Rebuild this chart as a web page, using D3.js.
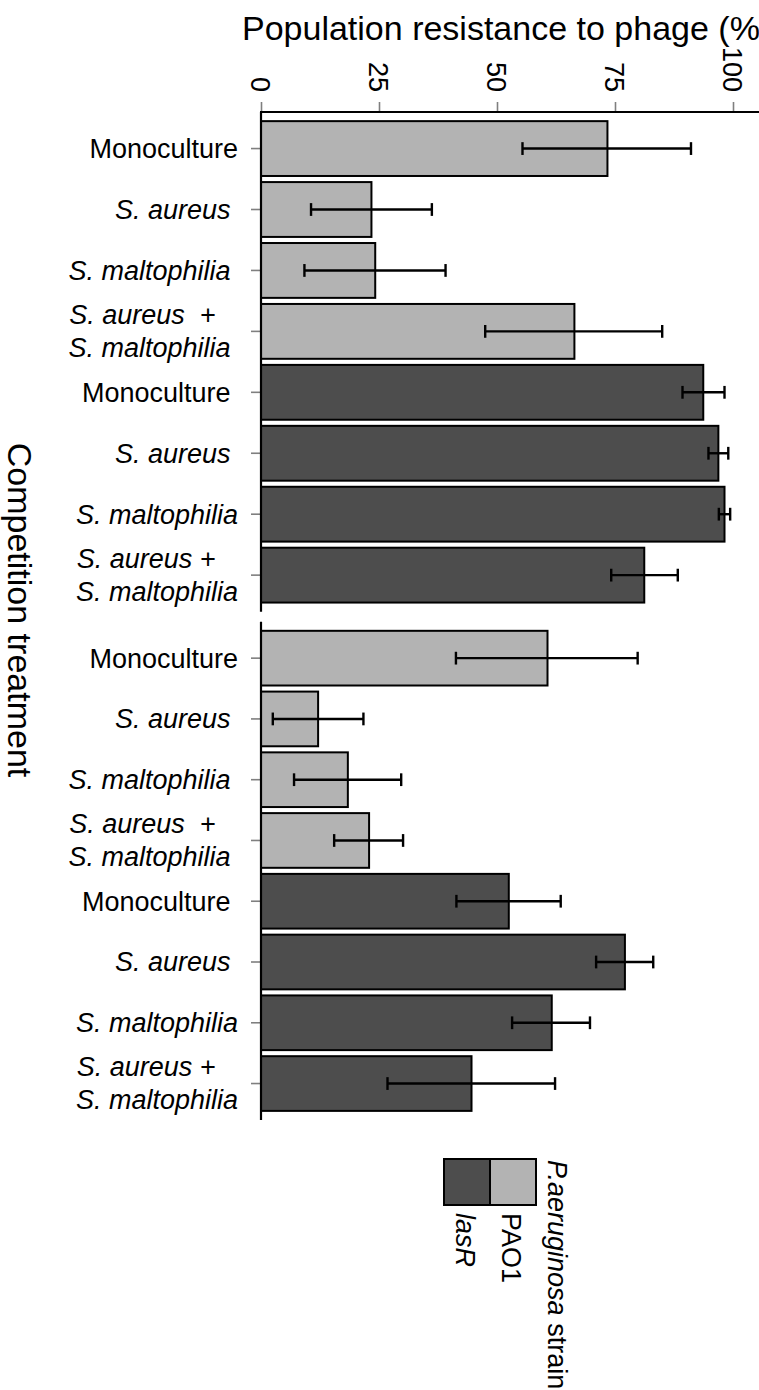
<!DOCTYPE html>
<html>
<head>
<meta charset="utf-8">
<script src="https://cdn.jsdelivr.net/npm/d3@7"></script>
<style>
  html, body { margin: 0; padding: 0; background: #fff; }
  svg { display: block; }
  text { font-family: "Liberation Sans", Arial, Helvetica, sans-serif; fill: #000; white-space: pre; }
</style>
</head>
<body>
<svg id="chart" width="759" height="1390"></svg>
<script>
// ---------------- data ----------------
const strains = ["PAO1", "PAO1", "PAO1", "PAO1", "lasR", "lasR", "lasR", "lasR"];
const tickLabels = [
  ["Monoculture"],
  ["S. aureus "],
  ["S. maltophilia "],
  ["S. aureus  +   ", "S. maltophilia "],
  ["Monoculture "],
  ["S. aureus "],
  ["S. maltophilia"],
  ["S. aureus +   ", "S. maltophilia"]
];
const italicLabel = [false, true, true, true, false, true, true, true];

const panel1Mean = [73.4, 23.4, 24.2, 66.4, 93.7, 96.9, 98.2, 81.2];
const panel1Lo   = [55.4, 10.6,  9.2, 47.5, 89.3, 94.8, 97.0, 74.2];
const panel1Hi   = [91.1, 36.2, 39.1, 85.0, 98.2, 99.0, 99.4, 88.3];

const panel2Mean = [60.7, 12.1, 18.4, 22.9, 52.5, 77.1, 61.6, 44.6];
const panel2Lo   = [41.3,  2.5,  7.0, 15.5, 41.4, 71.0, 53.2, 26.8];
const panel2Hi   = [79.8, 21.7, 29.7, 30.1, 63.5, 83.1, 69.7, 62.3];

const xTicks = [0, 25, 50, 75, 100];
const legendStrains = ["lasR", "PAO1"];
const strainColor = { PAO1: "#b3b3b3", lasR: "#4d4d4d" };

// ---------------- layout ----------------
const W = 759;
const svg = d3.select("#chart");
const x = d3.scaleLinear().domain([0, 100]).range([261, 733]);
const panels = [
  { top: 112, bottom: 611.7, mean: panel1Mean, lo: panel1Lo, hi: panel1Hi },
  { top: 621.7, bottom: 1120, mean: panel2Mean, lo: panel2Lo, hi: panel2Hi }
];
const idx = d3.range(strains.length);

panels.forEach((p, pi) => {
  const y = d3.scaleBand().domain(idx).range([p.top, p.bottom])
    .paddingInner(0.1).paddingOuter(0.15);
  const g = svg.append("g");
  const rows = idx.map(i => ({ i, strain: strains[i], mean: p.mean[i], lo: p.lo[i], hi: p.hi[i] }));

  // bars
  g.selectAll("rect.bar").data(rows).join("rect")
    .attr("class", "bar")
    .attr("x", x(0))
    .attr("y", d => y(d.i))
    .attr("width", d => x(d.mean) - x(0))
    .attr("height", y.bandwidth())
    .attr("fill", d => strainColor[d.strain])
    .attr("stroke", "#000")
    .attr("stroke-width", 2);

  // error bars
  const capH = y.step() * 0.21;
  const eb = g.selectAll("g.eb").data(rows).join("g").attr("class", "eb")
    .attr("stroke", "#000").attr("stroke-width", 2.4);
  eb.append("line")
    .attr("x1", d => x(d.lo)).attr("x2", d => x(d.hi))
    .attr("y1", d => y(d.i) + y.bandwidth() / 2).attr("y2", d => y(d.i) + y.bandwidth() / 2);
  eb.append("line")
    .attr("x1", d => x(d.lo)).attr("x2", d => x(d.lo))
    .attr("y1", d => y(d.i) + y.bandwidth() / 2 - capH / 2).attr("y2", d => y(d.i) + y.bandwidth() / 2 + capH / 2);
  eb.append("line")
    .attr("x1", d => x(d.hi)).attr("x2", d => x(d.hi))
    .attr("y1", d => y(d.i) + y.bandwidth() / 2 - capH / 2).attr("y2", d => y(d.i) + y.bandwidth() / 2 + capH / 2);

  // y axis
  const yAxis = d3.axisLeft(y).tickSize(10).tickSizeOuter(0).tickFormat("");
  const ya = g.append("g").attr("transform", `translate(${x(0)},0)`).call(yAxis);
  ya.select(".domain").remove();
  ya.selectAll(".tick line").attr("stroke", "#7f7f7f").attr("stroke-width", 1.6);
  g.append("line").attr("x1", x(0)).attr("x2", x(0)).attr("y1", p.top).attr("y2", p.bottom)
    .attr("stroke", "#000").attr("stroke-width", 2.2);

  // y tick labels
  const lab = g.selectAll("text.ylab").data(rows).join("text")
    .attr("class", "ylab")
    .attr("text-anchor", "end")
    .attr("font-size", 27)
    .attr("font-style", d => italicLabel[d.i] ? "italic" : "normal");
  lab.each(function(d) {
    const lines = tickLabels[d.i];
    const cy = y(d.i) + y.bandwidth() / 2;
    const t = d3.select(this);
    lines.forEach((s, li) => {
      const off = (li - (lines.length - 1) / 2) * 33;
      t.append("tspan").attr("x", 238).attr("y", cy + off).attr("dy", "0.35em").text(s);
    });
  });

  // top axis on first panel only
  if (pi === 0) {
    const xa = g.append("g").attr("transform", `translate(0,${p.top})`)
      .call(d3.axisTop(x).tickValues(xTicks).tickSize(10).tickSizeOuter(0));
    xa.select(".domain").remove();
    xa.selectAll(".tick line").attr("stroke", "#7f7f7f").attr("stroke-width", 1.6);
    xa.selectAll(".tick text").remove();
    g.append("line").attr("x1", x(0) - 1).attr("x2", W).attr("y1", p.top).attr("y2", p.top)
      .attr("stroke", "#000").attr("stroke-width", 2.2);
    g.selectAll("text.xlab").data(xTicks).join("text")
      .attr("class", "xlab")
      .attr("transform", d => `translate(${x(d)},92) rotate(90)`)
      .attr("text-anchor", "end")
      .attr("dy", "0.36em")
      .attr("font-size", 27)
      .text(d => d);
  }
});

// axis titles
svg.append("text")
  .attr("x", 242).attr("y", 40)
  .attr("font-size", 34)
  .text("Population resistance to phage (%)");

svg.append("text")
  .attr("transform", `translate(8,610) rotate(90)`)
  .attr("text-anchor", "middle")
  .attr("font-size", 34)
  .text("Competition treatment");

// legend (rotated)
const lg = svg.append("g");
const keySize = 46;
const keyX = d3.scaleBand().domain(legendStrains).range([444, 444 + 2 * keySize]);
lg.selectAll("rect").data(legendStrains).join("rect")
  .attr("x", d => keyX(d)).attr("y", 1159)
  .attr("width", keySize).attr("height", keySize)
  .attr("fill", d => strainColor[d])
  .attr("stroke", "#000").attr("stroke-width", 2);
lg.selectAll("text.lg").data(legendStrains).join("text")
  .attr("class", "lg")
  .attr("transform", d => `translate(${keyX(d) + 12},1213) rotate(90)`)
  .attr("font-size", 27)
  .attr("font-style", d => d === "lasR" ? "italic" : "normal")
  .text(d => d);
const lt = lg.append("text")
  .attr("transform", `translate(548,1160) rotate(90)`)
  .attr("font-size", 27);
lt.append("tspan").attr("font-style", "italic").text("P.aeruginosa");
lt.append("tspan").text(" strain");
</script>
</body>
</html>
